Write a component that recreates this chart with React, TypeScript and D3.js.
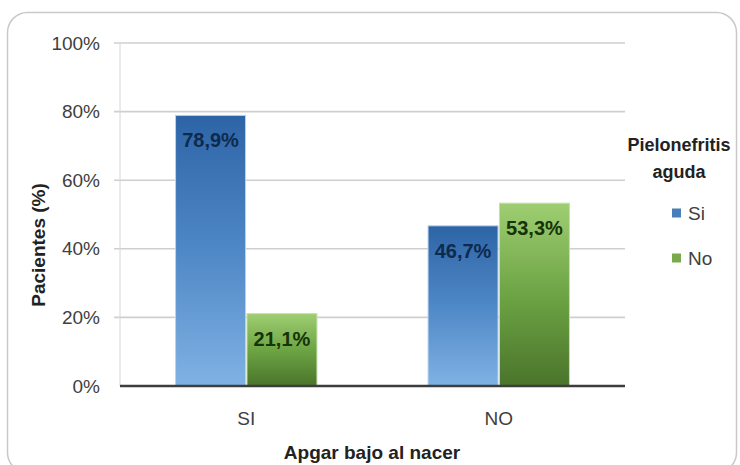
import React from "react";
import * as d3 from "d3";

const categories = ["SI", "NO"];
const seriesNames = ["Si", "No"];
const siValues = [78.9, 46.7];
const noValues = [21.1, 53.3];
const yTicks = [0, 20, 40, 60, 80, 100];
const valueLabels = [["78,9%", "46,7%"], ["21,1%", "53,3%"]];

const W = 740;
const H = 465;
const left = 120;
const right = 625;
const top = 43;
const bottom = 386;

const FONT = "'Liberation Sans', Arial, sans-serif";

export default function App() {
  const x0 = d3.scaleBand<string>().domain(categories).range([left, right]).paddingInner(0.44).paddingOuter(0.22);
  const x1 = d3.scaleBand<string>().domain(seriesNames).range([0, x0.bandwidth()]).paddingInner(0.02);
  const y = d3.scaleLinear().domain([0, 100]).range([bottom, top]);
  const series = [siValues, noValues];
  const fills = ["url(#gBlue)", "url(#gGreen)"];
  const strokes = ["#b9d3ee", "#c4e0a8"];
  const labelColors = ["#0e2a4d", "#16330a"];
  const legendColors = ["#4a7ebb", "#79a94a"];

  return (
    <svg width={W} height={H} style={{ position: "absolute", left: 0, top: 0 }} fontFamily={FONT}>
      <defs>
        <linearGradient id="gBlue" x1="0" y1="0" x2="0" y2="1">
          <stop offset="0%" stopColor="#2d64a6" />
          <stop offset="50%" stopColor="#4f88c6" />
          <stop offset="100%" stopColor="#80b2e4" />
        </linearGradient>
        <linearGradient id="gGreen" x1="0" y1="0" x2="0" y2="1">
          <stop offset="0%" stopColor="#9fce72" />
          <stop offset="50%" stopColor="#6da444" />
          <stop offset="100%" stopColor="#4a742b" />
        </linearGradient>
      </defs>
      <rect x={0} y={0} width={W} height={H} fill="#ffffff" />
      <rect x={7.5} y={12.5} width={729} height={460} rx={20} ry={20} fill="#ffffff" stroke="#c9c9c9" strokeWidth={1.5} />

      {yTicks.map((t) => (
        <g key={t}>
          {t > 0 && (
            <line x1={left - 6} x2={right} y1={y(t)} y2={y(t)} stroke="#cfcfcf" strokeWidth={1.6} />
          )}
          <text x={100} y={y(t)} dy="0.35em" textAnchor="end" fontSize={19} fill="#404040">
            {t}%
          </text>
        </g>
      ))}
      <line x1={left} x2={left} y1={top} y2={bottom} stroke="#d6d6d6" strokeWidth={1} />

      {categories.map((c, ci) => (
        <g key={c} transform={`translate(${x0(c)},0)`}>
          {seriesNames.map((s, si) => {
            const v = series[si][ci];
            const bx = x1(s) as number;
            const by = y(v);
            return (
              <g key={s}>
                <rect x={bx} y={by} width={x1.bandwidth()} height={bottom - by} fill={fills[si]} stroke={strokes[si]} strokeWidth={1} />
                <text x={bx + x1.bandwidth() / 2} y={by + 32} textAnchor="middle" fontSize={20} fontWeight="bold" fill={labelColors[si]}>
                  {valueLabels[si][ci]}
                </text>
              </g>
            );
          })}
        </g>
      ))}

      <line x1={left} x2={right} y1={bottom} y2={bottom} stroke="#3d3d3d" strokeWidth={2.5} />

      {categories.map((c) => (
        <text key={c} x={(x0(c) as number) + x0.bandwidth() / 2} y={418} dy="0.35em" textAnchor="middle" fontSize={19} fill="#404040">
          {c}
        </text>
      ))}
      <text x={372} y={452} dy="0.35em" textAnchor="middle" fontSize={19} fontWeight="bold" fill="#222">
        Apgar bajo al nacer
      </text>
      <text transform="translate(38,245) rotate(-90)" dy="0.35em" textAnchor="middle" fontSize={19} fontWeight="bold" fill="#222">
        Pacientes (%)
      </text>

      <text x={679} y={145} dy="0.35em" textAnchor="middle" fontSize={18} fontWeight="bold" fill="#222">
        Pielonefritis
      </text>
      <text x={679} y={172} dy="0.35em" textAnchor="middle" fontSize={18} fontWeight="bold" fill="#222">
        aguda
      </text>
      {seriesNames.map((s, i) => (
        <g key={s} transform={`translate(672,${213 + i * 45})`}>
          <rect x={0} y={-4.5} width={9} height={9} fill={legendColors[i]} />
          <text x={16} y={0} dy="0.35em" fontSize={19} fill="#404040">
            {s}
          </text>
        </g>
      ))}
    </svg>
  );
}
